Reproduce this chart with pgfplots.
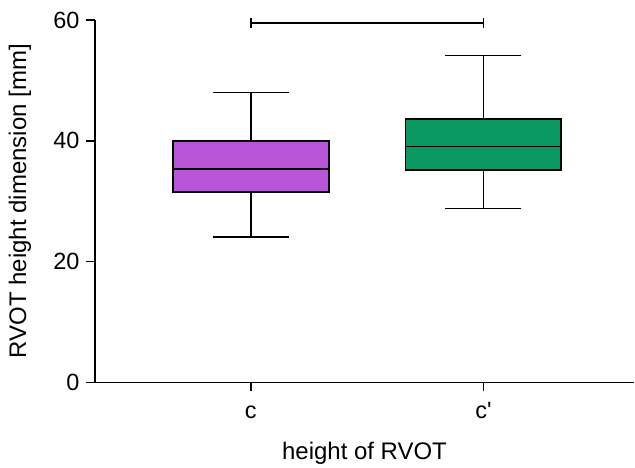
\documentclass[border=0pt]{standalone}
\usepackage{pgfplots}
\pgfplotsset{compat=1.18}
\usepgfplotslibrary{statistics}
\usepackage{fontspec}
\setmainfont{Liberation Sans}
\definecolor{cpurple}{RGB}{184,86,215}
\definecolor{cgreen}{RGB}{12,152,98}

\pgfplotsset{
  rvotbox/.style={
    boxplot/draw direction=y,
    boxplot/box extend=0.67,
    boxplot/whisker extend=0.326,
    boxplot/every box/.style={draw=black, line width=1.9pt, fill=#1},
    boxplot/every median/.style={draw=black, line width=1.9pt},
    boxplot/every whisker/.style={draw=black, line width=1.7pt},
    draw=black, line width=1.7pt, fill=#1, mark=none, solid,
  },
}

\begin{document}
\begin{tikzpicture}
\begin{axis}[
  scale only axis,
  width=540pt, height=363pt,
  xmin=0.33, xmax=2.648,
  ymin=0, ymax=60,
  clip=false,
  axis lines=left,
  axis line style={-, line width=1.7pt},
  ytick={0,20,40,60},
  xtick={1,2},
  xticklabels={c, c\textquotesingle},
  tick align=outside,
  major tick length=9pt,
  tick style={line width=1.7pt, black},
  /pgf/number format/assume math mode=true,
  tick label style={font=\fontsize{23.5}{26}\selectfont},
  yticklabel style={xshift=-3pt},
  xticklabel style={anchor=base, yshift=-27pt},
  label style={font=\fontsize{24}{28}\selectfont},
  xlabel={height of RVOT},
  ylabel={RVOT height dimension [mm]},
  xlabel style={at={(axis description cs:0.5,0)}, anchor=base, yshift=-77pt},
  ylabel style={at={(axis description cs:0,0.5)}, anchor=center, rotate=0, yshift=75pt},
]
\addplot+[rvotbox=cpurple, boxplot prepared={lower whisker=24.1, lower quartile=31.6,
    median=35.3, upper quartile=40.0, upper whisker=48.0, draw position=1}]
  coordinates {};
\addplot+[rvotbox=cgreen, boxplot prepared={lower whisker=28.8, lower quartile=35.1,
    median=39.05, upper quartile=43.6, upper whisker=54.1, draw position=2}]
  coordinates {};
\addplot[black, line width=1.7pt, mark=|, mark size=5pt,
  mark options={line width=1.7pt, solid}] coordinates {(1,59.5) (2,59.5)};
\path (rel axis cs:0,1) ++(-95pt,20pt);
\end{axis}
\end{tikzpicture}
\end{document}
